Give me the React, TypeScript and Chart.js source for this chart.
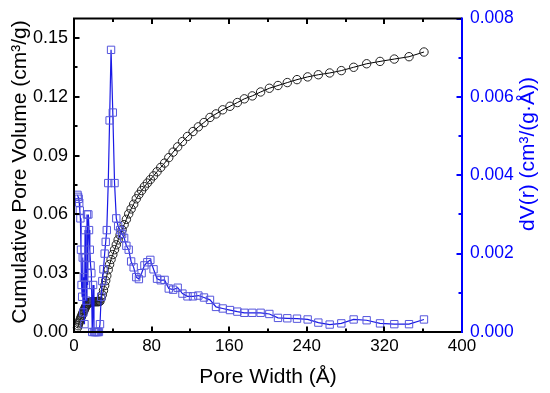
import React, { useEffect, useRef } from 'react';
import { Chart, registerables } from 'chart.js';

Chart.register(...registerables);

// Pore width (Å)
const poreWidth = [
  3.6, 4.2, 4.8, 5.4, 6.0, 6.6, 7.2, 7.8, 8.4, 9.0,
  9.6, 10.2, 10.8, 11.4, 12.0, 12.7, 13.4, 14.1, 14.8, 15.5,
  16.3, 17.1, 17.9, 18.8, 19.7, 20.6, 21.6, 22.6, 23.6, 24.6,
  25.7, 26.8, 28.0, 29.2, 30.4, 31.6, 32.7, 33.8, 35.3, 36.7,
  38.2, 40.0, 41.8, 43.6, 45.5, 47.5, 49.6, 51.7, 54.0, 56.4,
  58.9, 61.5, 64.2, 66.9, 69.7, 72.6, 75.6, 78.7, 82.0, 85.6,
  89.4, 93.4, 97.7, 102.2, 106.9, 111.8, 117.0, 122.7, 128.2, 134.0,
  140.2, 146.4, 153.3, 160.8, 168.4, 175.6, 183.8, 192.4, 201.4, 210.3,
  219.9, 229.9, 240.9, 251.9, 263.6, 275.6, 288.3, 301.7, 315.5, 330.2,
  345.4, 360.8,
];

// Cumulative pore volume (cm³/g)
const cumulativeVolume = [
  0.0022, 0.0032, 0.0042, 0.005, 0.0058, 0.0066, 0.0074, 0.0081, 0.0088, 0.0095,
  0.0102, 0.0109, 0.0116, 0.0123, 0.0129, 0.0135, 0.014, 0.0144, 0.0147, 0.015,
  0.0152, 0.0153, 0.0154, 0.0155, 0.0155, 0.0155, 0.0155, 0.0155, 0.0155, 0.0155,
  0.0155, 0.0157, 0.0172, 0.019, 0.0212, 0.0237, 0.0262, 0.0287, 0.0318, 0.0345,
  0.037, 0.0395, 0.042, 0.0445, 0.047, 0.0495, 0.0522, 0.0548, 0.0575, 0.0603,
  0.0628, 0.0652, 0.068, 0.0702, 0.0722, 0.0742, 0.076, 0.0778, 0.0797, 0.0818,
  0.084, 0.0862, 0.089, 0.0918, 0.0945, 0.0972, 0.0998, 0.1023, 0.1047, 0.1069,
  0.1095, 0.1113, 0.1134, 0.1152, 0.1171, 0.119, 0.1205, 0.1225, 0.1244, 0.1258,
  0.1273, 0.1288, 0.1302, 0.1313, 0.1322, 0.1334, 0.1351, 0.1369, 0.1381, 0.1393,
  0.1405, 0.1429,
];

// dV(r) (cm³/(g·Å))
const dVr = [
  0.0035, 0.00345, 0.0034, 0.0033, 0.0031, 0.0029, 0.0021, 0.0012, 0.0009, 0.0019,
  0.0005, 0.0014, 0.0002, 0.0026, 0.0019, 0.0008, 0.003, 0.0012, 0.003, 0.0026,
  0.0021, 0.0017, 0.0015, 0.0, 0.0012, 0.0, 0.0, 0.0, 0.0, 0.0,
  0.0, 0.0002, 0.0009, 0.0013, 0.0016, 0.002, 0.0023, 0.0026, 0.0038, 0.0054,
  0.0072, 0.0056, 0.0038, 0.0029, 0.0027, 0.0026, 0.0025, 0.0024, 0.0022, 0.0021,
  0.0018, 0.00165, 0.0014, 0.00135, 0.0015, 0.0017, 0.00178, 0.00184, 0.0016, 0.00136,
  0.00132, 0.00133, 0.00111, 0.00108, 0.00113, 0.00098, 0.00091, 0.00091, 0.00093, 0.00088,
  0.00082, 0.00064, 0.0006, 0.00056, 0.00052, 0.00049, 0.00049, 0.00049, 0.00046, 0.00036,
  0.00035, 0.00034, 0.00032, 0.00024, 0.00019, 0.00022, 0.00032, 0.0003, 0.00022, 0.0002,
  0.0002, 0.00032,
];

const xMajorTicks = [0, 80, 160, 240, 320, 400];
const xMinorTicks = [40, 120, 200, 280, 360];
const yMajorTicks = [0, 0.03, 0.06, 0.09, 0.12, 0.15];
const yMinorTicks = [0.015, 0.045, 0.075, 0.105, 0.135];
const y1MajorTicks = [0, 0.002, 0.004, 0.006, 0.008];
const y1MinorTicks = [0.001, 0.003, 0.005, 0.007];

const xTitle = 'Pore Width (Å)';
const yTitle = 'Cumulative Pore Volume (cm³/g)';
const y1Title = 'dV(r) (cm³/(g·Å))';

const BLUE = '#0000ff';
const FONT = "'Liberation Sans', Arial, sans-serif";

const framePlugin = {
  id: 'frameTicks',
  afterDatasetsDraw(chart: any) {
    const { ctx, chartArea, scales } = chart;
    const { left, right, top, bottom } = chartArea;
    const x = scales.x, y = scales.y, y1 = scales.y1;
    ctx.save();
    ctx.lineWidth = 2;
    ctx.lineCap = 'butt';
    const MAJ = 5.5, MIN = 3.5;
    ctx.strokeStyle = '#000';
    const drawX = (vals: number[], len: number) => {
      vals.forEach((v) => {
        const px = Math.round(x.getPixelForValue(v));
        ctx.beginPath();
        ctx.moveTo(px, bottom);
        ctx.lineTo(px, bottom - len);
        ctx.moveTo(px, top);
        ctx.lineTo(px, top + len);
        ctx.stroke();
      });
    };
    drawX(xMajorTicks, MAJ);
    drawX(xMinorTicks, MIN);
    const drawY = (vals: number[], len: number) => {
      vals.forEach((v) => {
        const py = Math.round(y.getPixelForValue(v));
        ctx.beginPath();
        ctx.moveTo(left, py);
        ctx.lineTo(left + len, py);
        ctx.stroke();
      });
    };
    drawY(yMajorTicks, MAJ);
    drawY(yMinorTicks, MIN);
    ctx.strokeStyle = BLUE;
    const drawY1 = (vals: number[], len: number) => {
      vals.forEach((v) => {
        const py = Math.round(y1.getPixelForValue(v));
        ctx.beginPath();
        ctx.moveTo(right, py);
        ctx.lineTo(right - len, py);
        ctx.stroke();
      });
    };
    drawY1(y1MajorTicks, MAJ);
    drawY1(y1MinorTicks, MIN);

    // frame
    ctx.strokeStyle = '#000';
    ctx.beginPath();
    ctx.moveTo(right, top);
    ctx.lineTo(left, top);
    ctx.lineTo(left, bottom);
    ctx.lineTo(right, bottom);
    ctx.stroke();
    ctx.strokeStyle = BLUE;
    ctx.beginPath();
    ctx.moveTo(right, top - 1);
    ctx.lineTo(right, bottom + 1);
    ctx.stroke();

    // titles
    ctx.font = `21px ${FONT}`;
    ctx.textAlign = 'center';
    ctx.textBaseline = 'middle';
    ctx.fillStyle = '#000';
    ctx.fillText(xTitle, (left + right) / 2, 377);
    ctx.save();
    ctx.translate(20, 172);
    ctx.rotate(-Math.PI / 2);
    ctx.fillText(yTitle, 0, 0);
    ctx.restore();
    ctx.save();
    ctx.fillStyle = BLUE;
    ctx.translate(528, 154);
    ctx.rotate(-Math.PI / 2);
    ctx.fillText(y1Title, 0, 0);
    ctx.restore();
    ctx.restore();
  },
};

const fixTicks = (vals: number[]) => (s: any) => {
  s.ticks = vals.map((v) => ({ value: v }));
};

export default function App() {
  const ref = useRef<HTMLCanvasElement | null>(null);
  useEffect(() => {
    if (!ref.current) return;
    const circles = poreWidth.map((w, i) => ({ x: w, y: cumulativeVolume[i] }));
    const squares = poreWidth.map((w, i) => ({ x: w, y: dVr[i] }));
    const chart = new Chart(ref.current, {
      type: 'line',
      data: {
        datasets: [
          {
            label: 'dV(r)',
            data: squares,
            yAxisID: 'y1',
            borderColor: '#1a1ae6',
            borderWidth: 1.2,
            pointStyle: 'rect',
            pointRadius: 5.2,
            pointBorderWidth: 1,
            pointBorderColor: '#5555dd',
            pointBackgroundColor: 'rgba(0,0,0,0)',
            tension: 0,
            clip: false as any,
          },
          {
            label: 'Cumulative',
            data: circles,
            yAxisID: 'y',
            borderColor: '#000',
            borderWidth: 1,
            pointStyle: 'circle',
            pointRadius: 4.2,
            pointBorderWidth: 1,
            pointBorderColor: '#222',
            pointBackgroundColor: 'rgba(0,0,0,0)',
            tension: 0,
            clip: false as any,
          },
        ],
      },
      options: {
        responsive: false,
        animation: false,
        events: [],
        layout: { padding: { top: 16, left: 0, right: 0, bottom: 0 } },
        plugins: { legend: { display: false }, tooltip: { enabled: false } },
        scales: {
          x: {
            type: 'linear',
            position: 'bottom',
            min: 0,
            max: 400,
            grid: { display: false, drawTicks: false },
            border: { display: false },
            afterBuildTicks: fixTicks(xMajorTicks),
            ticks: {
              autoSkip: false,
              color: '#000',
              padding: 4,
              maxRotation: 0,
              font: { family: FONT, size: 17 },
              callback: (v: any) => String(v),
            },
            afterFit: (s: any) => { s.height = 61; },
          },
          y: {
            type: 'linear',
            position: 'left',
            min: 0,
            max: 0.16,
            grid: { display: false, drawTicks: false },
            border: { display: false },
            afterBuildTicks: fixTicks(yMajorTicks),
            ticks: {
              autoSkip: false,
              color: '#000',
              padding: 6,
              font: { family: FONT, size: 18 },
              callback: (v: any) => Number(v).toFixed(2),
            },
            afterFit: (s: any) => { s.width = 74; },
          },
          y1: {
            type: 'linear',
            position: 'right',
            min: 0,
            max: 0.008,
            grid: { display: false, drawTicks: false },
            border: { display: false },
            afterBuildTicks: fixTicks(y1MajorTicks),
            ticks: {
              autoSkip: false,
              color: BLUE,
              padding: 8,
              font: { family: FONT, size: 17.5 },
              callback: (v: any) => Number(v).toFixed(3),
            },
            afterFit: (s: any) => { s.width = 88; },
          },
        },
      },
      plugins: [framePlugin],
    });
    return () => chart.destroy();
  }, []);
  return (
    <div style={{ position: 'absolute', left: 0, top: 0, width: 550, height: 393, background: '#fff' }}>
      <canvas ref={ref} width={550} height={393} />
    </div>
  );
}
